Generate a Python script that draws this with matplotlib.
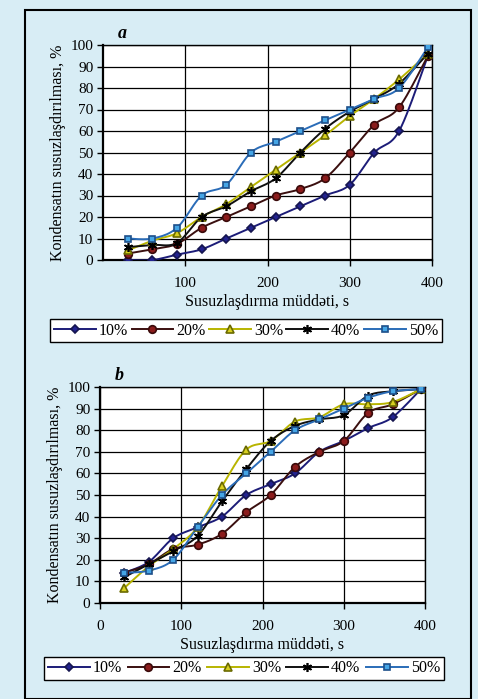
import numpy as np
import matplotlib
matplotlib.use("Agg")
import matplotlib.pyplot as plt
from matplotlib.patches import Rectangle
from matplotlib.lines import Line2D

# ---------------- data ----------------
time_s = [30, 60, 90, 120, 150, 180, 210, 240, 270, 300, 330, 360, 395]
series_labels = ["10%", "20%", "30%", "40%", "50%"]

a_10 = [0, 0, 2.5, 5, 10, 15, 20, 25, 30, 35, 50, 60, 95]
a_20 = [3, 5, 7.5, 15, 20, 25, 30, 33, 38, 50, 63, 71, 95]
a_30 = [4.5, 9, 12.5, 20, 26, 34, 42, 50, 58, 67, 75, 84, 96]
a_40 = [6, 7, 8, 20, 25, 32, 38, 50, 61, 69, 75, 82, 96]
a_50 = [10, 10, 15, 30, 35, 50, 55, 60, 65, 70, 75, 80, 99]

b_10 = [14, 19, 30, 35, 40, 50, 55, 60, 70, 75, 81, 86, 99]
b_20 = [14, 18, 25, 27, 32, 42, 50, 63, 70, 75, 88, 92, 99]
b_30 = [7, 17, 25, 35, 54, 71, 75, 84, 86, 92, 92, 93, 99]
b_40 = [12, 18, 24, 31, 47, 62, 75, 82, 85, 87, 96, 98, 99]
b_50 = [14, 15, 20, 35, 50, 60, 70, 80, 85, 90, 95, 98, 99]

x_label = "Susuzlaşdırma müddəti, s"
y_label = "Kondensatın susuzlaşdırılması, %"
y_ticks = [0, 10, 20, 30, 40, 50, 60, 70, 80, 90, 100]
a_xticks = [100, 200, 300, 400]
b_xticks = [0, 100, 200, 300, 400]

# ---------------- styles ----------------
styles = [
    dict(color="#1c1c78", marker="D", mfc="#23238f", mec="#15154f", ms=4.5),
    dict(color="#3a0f0f", marker="o", mfc="#8b1c1c", mec="#3a0a0a", ms=5.5),
    dict(color="#b8b400", marker="^", mfc="#d8d020", mec="#6a6a00", ms=6),
    dict(color="#101010", marker=(6, 2, 0), mfc="#000000", mec="#000000", ms=6.5),
    dict(color="#2a6cb8", marker="s", mfc="#45a5e5", mec="#1d4f8a", ms=5),
]

plt.rcParams["font.family"] = ["Liberation Serif", "DejaVu Serif"]
W, H = 478, 699
fig = plt.figure(figsize=(W / 100, H / 100), dpi=100)
bg = "#d8edf5"
fig.patch.set_facecolor(bg)


def smooth(x, y, n=12):
    # Catmull-Rom spline through the data points (line rendering only)
    x = np.asarray(x, float)
    y = np.asarray(y, float)
    P = np.column_stack([x, y])
    P = np.vstack([P[0], P, P[-1]])
    out = []
    for i in range(1, len(P) - 2):
        p0, p1, p2, p3 = P[i - 1], P[i], P[i + 1], P[i + 2]
        t = np.linspace(0, 1, n, endpoint=False)[:, None]
        c = 0.5 * ((2 * p1) + (-p0 + p2) * t + (2 * p0 - 5 * p1 + 4 * p2 - p3) * t ** 2
                   + (-p0 + 3 * p1 - 3 * p2 + p3) * t ** 3)
        out.append(c)
    out.append(P[-2][None, :])
    out = np.vstack(out)
    return out[:, 0], out[:, 1]


def px_rect(l, t, r, b):
    return [l / W, 1 - b / H, (r - l) / W, (b - t) / H]


def draw(ax, series, xticks, tag):
    for vals, st in zip(series, styles):
        sx, sy = smooth(time_s, vals)
        ax.plot(sx, sy, color=st["color"], lw=1.4, zorder=3)
        ax.plot(time_s, vals, ls="none", marker=st["marker"], ms=st["ms"],
                mfc=st["mfc"], mec=st["mec"], mew=1.2, zorder=4)
    ax.set_xlim(0, 400)
    ax.set_ylim(0, 100)
    ax.set_yticks(y_ticks)
    ax.set_xticks(xticks)
    ax.set_facecolor("white")
    ax.grid(True, color="black", lw=0.9)
    ax.set_axisbelow(True)
    for s in ax.spines.values():
        s.set_color("black")
        s.set_linewidth(1.0)
    ax.spines["left"].set_linewidth(1.6)
    ax.spines["bottom"].set_linewidth(1.6)
    ax.tick_params(axis="both", labelsize=11, length=4, width=1, colors="black",
                   direction="out")
    ax.tick_params(axis="x", pad=8)
    ax.tick_params(axis="y", pad=3)
    ax.set_xlabel(x_label, fontsize=11.5, labelpad=3)
    ax.set_ylabel(y_label, fontsize=11.5, labelpad=3)
    ax.text(0.045, 1.015, tag, transform=ax.transAxes, fontsize=13,
            fontweight="bold", style="italic", ha="left", va="bottom")


ax1 = fig.add_axes(px_rect(103, 45, 432, 260))
draw(ax1, [a_10, a_20, a_30, a_40, a_50], a_xticks, "a")
ax2 = fig.add_axes(px_rect(100, 387, 425, 603))
draw(ax2, [b_10, b_20, b_30, b_40, b_50], b_xticks, "b")

handles = [Line2D([0], [0], color=st["color"], lw=1.4, marker=st["marker"],
                  ms=st["ms"], mfc=st["mfc"], mec=st["mec"], mew=1.2)
           for st in styles]

for rect in (px_rect(50, 319, 442, 342), px_rect(44, 659, 444, 678)):
    leg = fig.legend(handles, series_labels, ncol=5, loc="center",
                     bbox_to_anchor=rect, mode="expand", borderaxespad=0,
                     fancybox=False, edgecolor="black", facecolor="white",
                     framealpha=1, fontsize=11.5, handlelength=2.6,
                     handletextpad=0.2, columnspacing=0.8, borderpad=0.25)
    leg.get_frame().set_linewidth(1.0)

# outer scan frame
fig.patches.append(Rectangle((25 / W, 0), (471 - 25) / W, 1 - 10 / H,
                             transform=fig.transFigure, fill=False,
                             edgecolor="black", lw=1.5))

fig.savefig("out.png", dpi=100, facecolor=bg)
